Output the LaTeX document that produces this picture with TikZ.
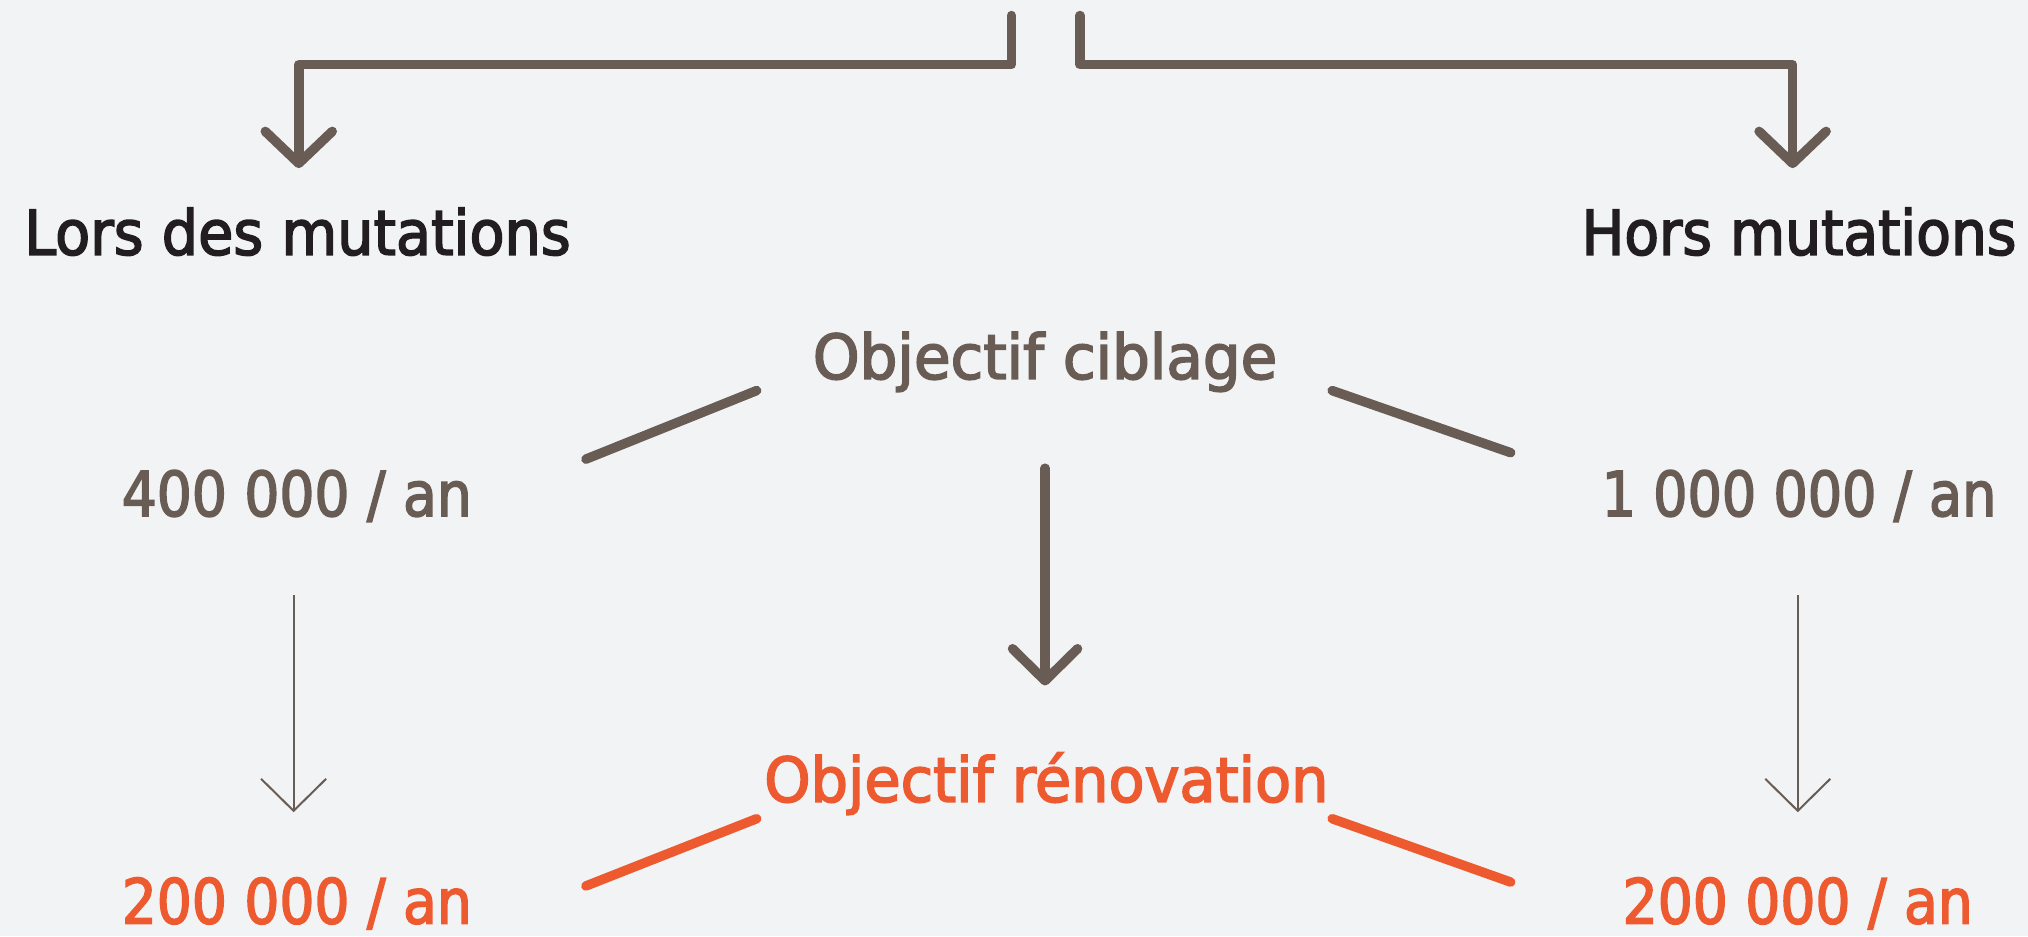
\documentclass[tikz,border=0pt]{standalone}
\usepackage{fontspec}
\setmainfont{DejaVu Sans}[FakeStretch=0.88,FakeBold=2.5]
\usetikzlibrary{arrows.meta}
\definecolor{bg}{HTML}{F2F3F5}
\definecolor{brn}{HTML}{695C54}
\definecolor{blk}{HTML}{221E1F}
\definecolor{org}{HTML}{EE5A30}
\newcommand\hsx[2]{\scalebox{#1}[1]{#2}}
\begin{document}
\begin{tikzpicture}[x=1.2934pt,y=-1.2934pt,
  lbl/.style={inner sep=0pt, anchor=base, font=\fontsize{62}{70}\selectfont},
  heavy/.style={draw=brn, line width=9.5pt, line cap=round, line join=round},
  orangeline/.style={draw=org, line width=9.5pt, line cap=round},
  bigtip/.style={-{Straight Barb[round,length=32pt,width=67pt]}},
  midtip/.style={-{Straight Barb[round,length=32pt,width=65pt]}},
  thin/.style={draw=brn, line width=2pt, -{Straight Barb[length=32pt,width=65pt]}}]
\fill[bg] (0,0) rectangle (1568,724);
\useasboundingbox (0,0) rectangle (1568,724);

% texts
\node[lbl, text=blk] (lors) at (230,197) {\hsx{1.05}{Lors des mutations}};
\node[lbl, text=blk] (hors) at (1391,197) {\hsx{1.04}{Hors mutations}};
\node[lbl, text=brn] (cib) at (808,293) {\hsx{1.09}{Objectif ciblage}};
\node[lbl, text=brn] (n400) at (229.5,399) {\hsx{1.01}{400 000 / an}};
\node[lbl, text=brn] (n1m) at (1391,399) {\hsx{0.99}{1 000 000 / an}};
\node[lbl, text=org] (ren) at (809,620) {\hsx{1.08}{Objectif rénovation}};
\node[lbl, text=org] (l200) at (229.5,714) {\hsx{1.01}{200 000 / an}};
\node[lbl, text=org] (r200) at (1390,714) {\hsx{1.01}{200 000 / an}};

% coordinates
\coordinate (tl) at (782,12);
\coordinate (tr) at (835,12);
\coordinate (la) at (231,130);
\coordinate (ra) at (1386,130);
\coordinate (cs) at (808,362);
\coordinate (ce) at (808,530);
\coordinate (ls) at (227,460);
\coordinate (le) at (227,628);
\coordinate (rs) at (1390,460);
\coordinate (re) at (1390,628);
\coordinate (d1a) at (453,355);
\coordinate (d1b) at (585,302);
\coordinate (d2a) at (1030,302);
\coordinate (d2b) at (1168,350);
\coordinate (d3a) at (453,685);
\coordinate (d3b) at (585,633);
\coordinate (d4a) at (1030,633);
\coordinate (d4b) at (1168,682);

% connectors
\draw[heavy, bigtip] (tl) -- (782,50) -| (la);
\draw[heavy, bigtip] (tr) -- (835,50) -| (ra);
\draw[heavy, midtip] (cs) -- (ce);
\draw[thin] (ls) -- (le);
\draw[thin] (rs) -- (re);
\draw[heavy] (d1a) -- (d1b);
\draw[heavy] (d2a) -- (d2b);
\draw[orangeline] (d3a) -- (d3b);
\draw[orangeline] (d4a) -- (d4b);
\end{tikzpicture}
\end{document}
